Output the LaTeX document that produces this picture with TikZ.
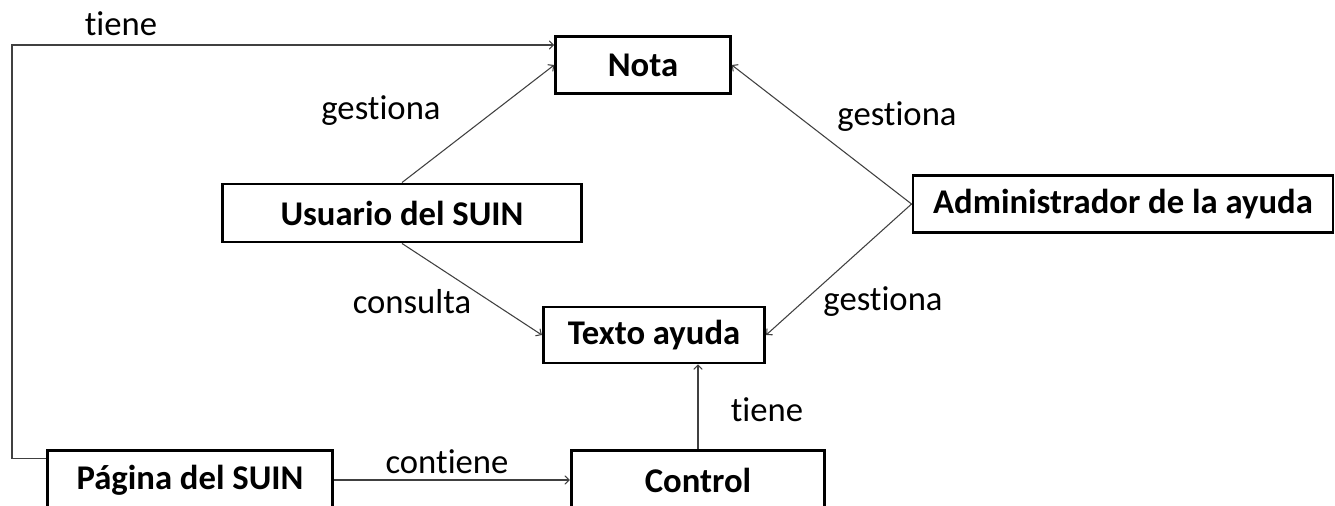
\documentclass[tikz,border=0pt]{standalone}
\usepackage{fontspec}
\setmainfont{Carlito}[Ligatures=NoCommon]
\usetikzlibrary{arrows}
\definecolor{linegray}{rgb}{0.25, 0.25, 0.25}

\begin{document}
\begin{tikzpicture}[x=0.75pt,y=-0.75pt,
    entity/.style={draw=black,line width=2.2pt,fill=white,inner sep=0pt,
      font=\fontsize{26}{30}\selectfont\bfseries},
    conn/.style={draw=linegray,line width=0.8pt,-angle 90},
    rel/.style={font=\fontsize{26}{30}\selectfont,inner sep=0pt}]
\useasboundingbox (0,0) rectangle (1335,506);

\node[entity,minimum width=131pt,minimum height=43pt] (nota) at (643,65) {Nota};
\node[entity,minimum width=269pt,minimum height=43.5pt] (usuario) at (402,213) {Usuario del SUIN};
\node[entity,minimum width=315pt,minimum height=43pt] (admin) at (1123,204) {Administrador de la ayuda};
\node[entity,minimum width=166pt,minimum height=42pt] (texto) at (654,335) {Texto ayuda};
\node[entity,minimum width=190pt,minimum height=44pt] (control) at (698,480) {Control};
\node[entity,minimum width=214pt,minimum height=44pt] (pagina) at (190,480) {Página del SUIN};

\coordinate (corner) at (12,45);

\draw[conn] ([yshift=16pt]pagina.west) -| (corner) -- (corner -| nota.west);
\draw[conn] (usuario.north) -- (nota.west);
\draw[conn] (admin.west) -- (nota.east);
\draw[conn] (usuario.south) -- (texto.west);
\draw[conn] (admin.west) -- (texto.east);
\draw[conn] (control.north) -- (texto.south -| control.north);
\draw[conn] (pagina.east) -- (control.west);

\node[rel] (tiene1) at (121,24) {tiene};
\node[rel] (gestiona1) at (381,111) {gestiona};
\node[rel] (gestiona2) at (897,117) {gestiona};
\node[rel] (consulta) at (412,302) {consulta};
\node[rel] (gestiona3) at (883,302) {gestiona};
\node[rel] (tiene2) at (767,410) {tiene};
\node[rel] (contiene) at (447,462) {contiene};
\end{tikzpicture}
\end{document}
